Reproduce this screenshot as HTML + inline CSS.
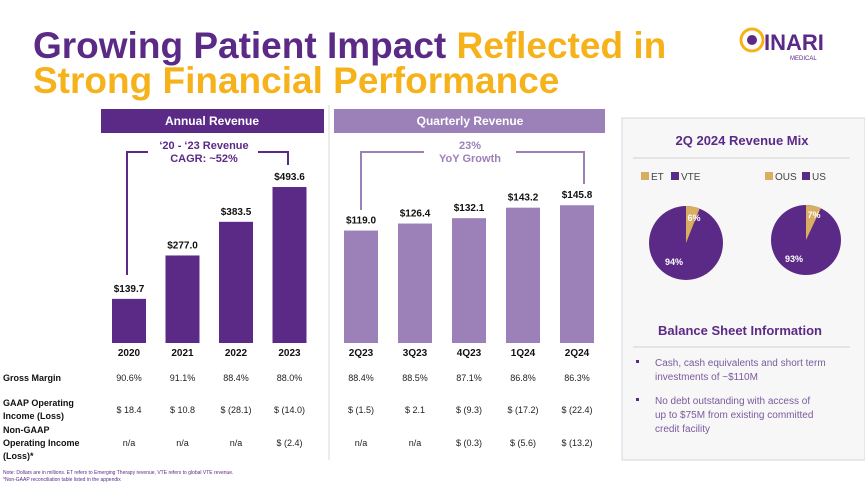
<!DOCTYPE html>
<html><head><meta charset="utf-8">
<style>
body{margin:0;width:865px;height:486px;overflow:hidden;background:#fff;font-family:"Liberation Sans",sans-serif;}
svg text{font-family:"Liberation Sans",sans-serif;}
</style></head><body>
<svg id="c" width="865" height="486" viewBox="0 0 865 486" xmlns="http://www.w3.org/2000/svg">
<text x="33" y="58" font-size="37" font-weight="bold" fill="#5b2a86">Growing Patient Impact <tspan fill="#f6b21b">Reflected in</tspan></text>
<text x="33" y="93" font-size="37" font-weight="bold" fill="#f6b21b">Strong Financial Performance</text>
<g>
<circle cx="752" cy="40" r="11" fill="none" stroke="#f6b21b" stroke-width="3"/>
<circle cx="752" cy="40" r="5" fill="#5b2a86"/>
<text x="764" y="50" font-size="22" font-weight="bold" fill="#5b2a86">INARI</text>
<text x="790" y="60" font-size="6" fill="#5b2a86">MEDICAL</text>
</g>
<rect x="101" y="109" width="223" height="24" fill="#5b2a86"/>
<text x="212" y="125" font-size="12" font-weight="bold" fill="#fff" text-anchor="middle">Annual Revenue</text>
<rect x="334" y="109" width="271" height="24" fill="#9c80b8"/>
<text x="470" y="125" font-size="12" font-weight="bold" fill="#fff" text-anchor="middle">Quarterly Revenue</text>
<line x1="329" y1="105" x2="329" y2="460" stroke="#d8d8d8"/>
<path d="M127 275 V152 H148 M258 152 H288 V165" fill="none" stroke="#5b2a86" stroke-width="2"/>
<text x="204" y="149" font-size="11" font-weight="bold" fill="#5b2a86" text-anchor="middle">‘20 - ‘23 Revenue</text>
<text x="204" y="162" font-size="11" font-weight="bold" fill="#5b2a86" text-anchor="middle">CAGR: ~52%</text>
<path d="M361 210 V152 H424 M516 152 H584 V184" fill="none" stroke="#9c80b8" stroke-width="2"/>
<text x="470" y="149" font-size="11" font-weight="bold" fill="#9c80b8" text-anchor="middle">23%</text>
<text x="470" y="162" font-size="11" font-weight="bold" fill="#9c80b8" text-anchor="middle">YoY Growth</text>
<g id="bars"></g>
<g id="table"></g>
<text x="3" y="474" font-size="5" fill="#5b2a86">Note: Dollars are in millions. ET refers to Emerging Therapy revenue, VTE refers to global VTE revenue.</text>
<text x="3" y="481" font-size="5" fill="#5b2a86">*Non-GAAP reconciliation table listed in the appendix</text>
<rect x="622" y="118" width="243" height="342" fill="#f7f7f7" stroke="#d9d3e3"/>
<text x="742" y="145" font-size="13" font-weight="bold" fill="#5b2a86" text-anchor="middle">2Q 2024 Revenue Mix</text>
<line x1="633" y1="158" x2="850" y2="158" stroke="#d0d0d0"/>
<g id="pies"></g>
<text x="740" y="335" font-size="13" font-weight="bold" fill="#5b2a86" text-anchor="middle">Balance Sheet Information</text>
<line x1="633" y1="347" x2="850" y2="347" stroke="#d0d0d0"/>
<g font-size="10" fill="#7a5a9e">
<rect x="636" y="360" width="3" height="3" fill="#5b2a86"/>
<text x="655" y="366">Cash, cash equivalents and short term</text>
<text x="655" y="380">investments of ~$110M</text>
<rect x="636" y="398" width="3" height="3" fill="#5b2a86"/>
<text x="655" y="404">No debt outstanding with access of</text>
<text x="655" y="418">up to $75M from existing committed</text>
<text x="655" y="432">credit facility</text>
</g>
</svg>
<script>
const annualCats=["2020","2021","2022","2023"];
const annualVals=[139.7,277.0,383.5,493.6];
const quarterCats=["2Q23","3Q23","4Q23","1Q24","2Q24"];
const quarterVals=[119.0,126.4,132.1,143.2,145.8];
const grossMargin=["90.6%","91.1%","88.4%","88.0%","88.4%","88.5%","87.1%","86.8%","86.3%"];
const gaapIncome=["$ 18.4","$ 10.8","$ (28.1)","$ (14.0)","$ (1.5)","$ 2.1","$ (9.3)","$ (17.2)","$ (22.4)"];
const nonGaapIncome=["n/a","n/a","n/a","$ (2.4)","n/a","n/a","$ (0.3)","$ (5.6)","$ (13.2)"];
const pieMix=[6,7];
const pieLegends=[["ET","VTE"],["OUS","US"]];
const NS="http://www.w3.org/2000/svg";
function mk(t,a,p,txt){const e=document.createElementNS(NS,t);for(const k in a)e.setAttribute(k,a[k]);if(txt!=null)e.textContent=txt;p.appendChild(e);return e;}
const base=343;
const yA=v=>base-v*0.316, yQ=v=>base-v*0.945;
const bars=document.getElementById('bars');
const colX=[];
annualCats.forEach((c,i)=>{const x=112+i*53.5;colX.push(x+17);
 const r=mk('rect',{x:x,y:yA(annualVals[i]),width:34,height:base-yA(annualVals[i]),fill:'#5b2a86'},bars);
 
 mk('text',{x:x+17,y:yA(annualVals[i])-7,'font-size':10,'font-weight':'bold','text-anchor':'middle',fill:'#111'},bars,'$'+annualVals[i].toFixed(1));
 mk('text',{x:x+17,y:356,'font-size':10,'font-weight':'bold','text-anchor':'middle',fill:'#111'},bars,c);});
quarterCats.forEach((c,i)=>{const x=344+i*54;colX.push(x+17);
 const r=mk('rect',{x:x,y:yQ(quarterVals[i]),width:34,height:base-yQ(quarterVals[i]),fill:'#9c80b8'},bars);
 
 mk('text',{x:x+17,y:yQ(quarterVals[i])-7,'font-size':10,'font-weight':'bold','text-anchor':'middle',fill:'#111'},bars,'$'+quarterVals[i].toFixed(1));
 mk('text',{x:x+17,y:356,'font-size':10,'font-weight':'bold','text-anchor':'middle',fill:'#111'},bars,c);});
const tb=document.getElementById('table');
[[["Gross Margin"],381],[["GAAP Operating","Income (Loss)"],406],[["Non-GAAP","Operating Income","(Loss)*"],433]].forEach(([ls,ys])=>{
 ls.forEach((l,j)=>mk('text',{x:3,y:ys+j*13,'font-size':9,'font-weight':'bold',fill:'#111'},tb,l));});
[grossMargin,gaapIncome,nonGaapIncome].forEach((row,ri)=>{const y=[381,413,446][ri];
 row.forEach((v,i)=>{const t=mk('text',{x:colX[i],y:y,'font-size':9,'text-anchor':'middle',fill:'#222'},tb,v);
 });});
const pies=document.getElementById('pies');
[[686,243,37,641],[806,240,35,765]].forEach((p,i)=>{const[cx,cy,r,lx]=p;
 const lg=pieLegends[i];
 mk('rect',{x:lx,y:172,width:8,height:8,fill:'#d9ae62'},pies);
 mk('text',{x:lx+10,y:180,'font-size':10,fill:'#444'},pies,lg[0]);
 const l2=lx+10+lg[0].length*7+6;
 mk('rect',{x:l2,y:172,width:8,height:8,fill:'#5b2a86'},pies);
 mk('text',{x:l2+10,y:180,'font-size':10,fill:'#444'},pies,lg[1]);
 const c=mk('circle',{cx:cx,cy:cy,r:r,fill:'#5b2a86'},pies);
 
 const a=pieMix[i]/100*2*Math.PI;
 const s=mk('path',{d:`M${cx} ${cy} L${cx} ${cy-r} A${r} ${r} 0 0 1 ${cx+r*Math.sin(a)} ${cy-r*Math.cos(a)} Z`,fill:'#d9ae62'},pies);
 
 mk('text',{x:cx+8,y:cy-22,'font-size':9,'font-weight':'bold',fill:'#fff','text-anchor':'middle'},pies,pieMix[i]+'%');
 mk('text',{x:cx-12,y:cy+22,'font-size':9,'font-weight':'bold',fill:'#fff','text-anchor':'middle'},pies,(100-pieMix[i])+'%');});
</script>
</body></html>
